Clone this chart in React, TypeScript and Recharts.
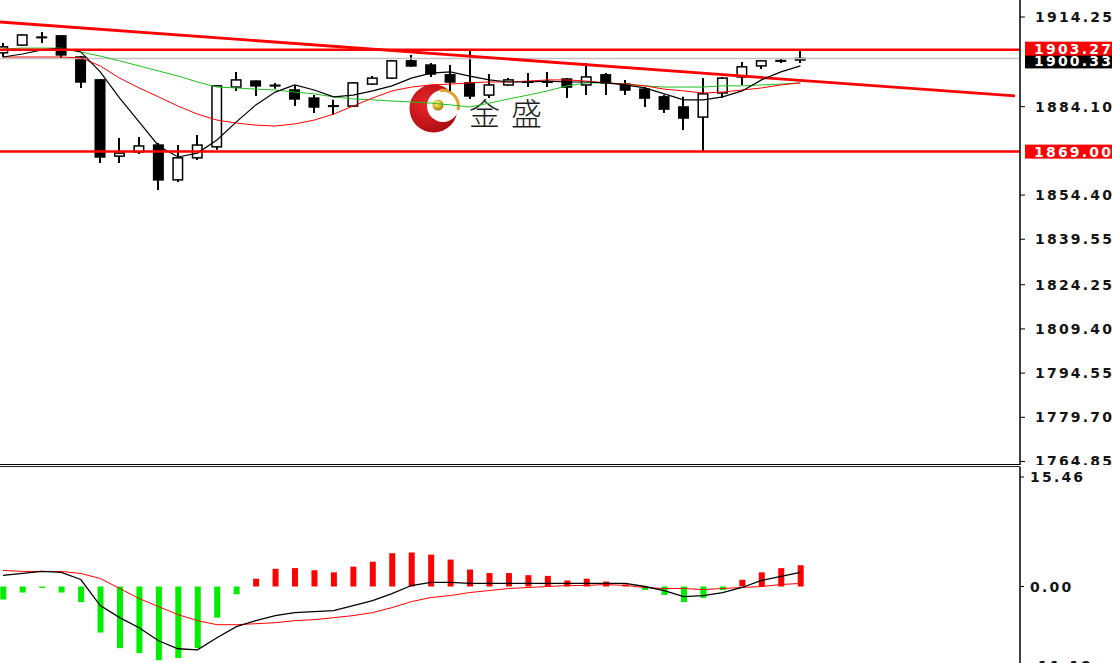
import React from 'react';
import { ComposedChart, Bar, Line, XAxis, YAxis, ReferenceLine, Cell } from 'recharts';

// candles, oldest first
const opens = [1902.2, 1904.8, 1907.3, 1907.9, 1900.8, 1893.1, 1867.5, 1868.9, 1871.2, 1859.5, 1866.9, 1870.6, 1890.7, 1892.7, 1891.3, 1889.7, 1887.0, 1884.2, 1884.3, 1891.7, 1893.7, 1899.5, 1898.1, 1894.8, 1892.1, 1888.0, 1891.4, 1892.3, 1892.5, 1893.4, 1891.4, 1894.8, 1891.7, 1890.0, 1887.4, 1884.0, 1880.6, 1888.7, 1894.1, 1897.8, 1899.4, 1899.8];
const highs = [1905.5, 1908.5, 1909.2, 1908.2, 1901.1, 1893.4, 1873.6, 1873.9, 1871.9, 1871.2, 1874.6, 1891.4, 1895.8, 1892.9, 1892.1, 1891.4, 1888.0, 1886.4, 1892.4, 1894.4, 1899.8, 1901.5, 1898.8, 1898.1, 1902.8, 1895.1, 1893.7, 1895.4, 1895.8, 1893.7, 1898.8, 1895.4, 1893.1, 1890.7, 1888.0, 1887.4, 1893.7, 1894.1, 1899.1, 1899.6, 1900.5, 1902.8];
const lows = [1900.8, 1904.5, 1905.5, 1900.5, 1890.4, 1865.2, 1865.2, 1868.2, 1856.1, 1858.8, 1866.2, 1869.6, 1889.4, 1887.7, 1890.1, 1884.3, 1882.0, 1881.3, 1884.0, 1891.4, 1893.4, 1897.5, 1894.1, 1889.4, 1886.7, 1887.0, 1891.1, 1890.7, 1890.7, 1887.0, 1888.0, 1888.0, 1888.0, 1884.0, 1882.0, 1876.3, 1869.2, 1887.0, 1891.4, 1896.8, 1898.8, 1898.8];
const closes = [1904.2, 1908.2, 1907.5, 1901.5, 1892.4, 1867.2, 1868.5, 1870.9, 1859.5, 1866.9, 1871.2, 1891.1, 1893.1, 1891.1, 1891.1, 1886.7, 1884.0, 1884.4, 1892.1, 1893.7, 1899.5, 1897.8, 1895.1, 1892.4, 1887.7, 1891.4, 1893.1, 1892.5, 1892.3, 1890.7, 1894.1, 1892.1, 1889.7, 1887.0, 1883.3, 1880.3, 1888.4, 1893.7, 1897.5, 1899.5, 1899.6, 1900.33];

// moving averages
const maFast = [1900.8, 1901.8, 1903.2, 1903.8, 1902.5, 1895.8, 1887.0, 1879.0, 1870.9, 1867.2, 1868.5, 1872.9, 1879.0, 1884.7, 1889.0, 1891.4, 1889.7, 1887.4, 1888.0, 1889.4, 1891.1, 1893.7, 1895.4, 1895.8, 1894.4, 1893.1, 1892.4, 1892.4, 1892.7, 1892.4, 1892.4, 1892.1, 1891.4, 1890.4, 1888.4, 1886.4, 1886.4, 1887.4, 1889.4, 1893.1, 1895.8, 1897.8];
const maMid = [1900.8, 1900.8, 1900.8, 1900.8, 1900.5, 1897.8, 1893.7, 1890.4, 1887.4, 1884.3, 1881.6, 1879.6, 1878.6, 1877.9, 1877.6, 1878.3, 1879.6, 1881.6, 1884.3, 1887.0, 1889.4, 1890.7, 1891.4, 1891.7, 1892.1, 1892.4, 1892.4, 1892.7, 1893.1, 1893.1, 1892.7, 1892.1, 1891.7, 1891.1, 1890.0, 1889.4, 1888.7, 1889.0, 1889.7, 1890.4, 1891.4, 1892.1];
const maSlow = [1903.5, 1903.8, 1903.8, 1903.8, 1902.5, 1901.1, 1899.5, 1897.8, 1896.1, 1894.4, 1892.4, 1890.7, 1890.4, 1890.0, 1889.7, 1889.0, 1888.4, 1887.4, 1886.7, 1886.4, 1886.0, 1885.7, 1885.3, 1884.7, 1884.0, 1885.3, 1886.7, 1888.0, 1889.4, 1891.1, 1892.1, 1892.1, 1891.7, 1891.1, 1890.7, 1890.7, 1890.7, 1891.1, 1891.1, 1891.4, 1891.7, 1892.1];

// MACD panel
const macdHist = [-1.84, -0.85, -0.2, -0.85, -2.2, -6.5, -8.7, -9.4, -10.4, -10.1, -8.7, -4.4, -1.1, 1.1, 2.5, 2.6, 2.3, 2.0, 2.8, 3.5, 4.7, 4.8, 4.5, 3.8, 2.4, 1.9, 1.9, 1.6, 1.5, 0.85, 1.1, 0.7, 0.3, -0.5, -1.2, -2.2, -1.6, -0.5, 0.95, 2.0, 2.6, 3.0];
const macdMain = [1.56, 1.84, 2.13, 1.99, 0.99, -2.7, -4.4, -5.82, -7.66, -8.79, -8.94, -7.23, -5.67, -4.82, -4.11, -3.69, -3.55, -3.4, -2.7, -1.99, -0.99, 0.14, 0.57, 0.57, 0.43, 0.43, 0.43, 0.43, 0.43, 0.43, 0.43, 0.43, 0.43, 0.0, -0.57, -1.42, -1.28, -0.85, -0.14, 0.85, 1.42, 1.99];
const macdSignal = [2.27, 2.13, 2.13, 2.13, 1.84, 1.13, -0.28, -1.7, -2.84, -3.97, -4.82, -5.39, -5.39, -5.25, -5.11, -4.82, -4.68, -4.4, -4.11, -3.69, -2.98, -2.13, -1.56, -1.28, -0.85, -0.57, -0.28, -0.14, 0.0, 0.14, 0.14, 0.28, 0.14, -0.14, -0.28, -0.28, -0.43, -0.28, -0.14, 0.0, 0.28, 0.43];

const priceTicks = [1914.25, 1884.1, 1854.4, 1839.55, 1824.25, 1809.4, 1794.55, 1779.7, 1764.85];
const macdTicks = [15.46, 0, -11.19];

const resistance = 1903.27;
const support = 1869.0;
const lastPrice = 1900.33;
const trendStart = { x: -0.154, y: 1912.57 };
const trendEnd = { x: 52.03, y: 1887.7 };

const xDomain = [-0.154, 52.29];
const priceDomain = [1763.66, 1919.96];
const macdDomain = [-12.21, 16.87];

const candles = opens.map((open, i) => ({
  i,
  open,
  high: highs[i],
  low: lows[i],
  close: closes[i],
  maFast: maFast[i],
  maMid: maMid[i],
  maSlow: maSlow[i],
}));

const macdRows = macdHist.map((hist, i) => ({
  i,
  hist,
  main: macdMain[i],
  signal: macdSignal[i],
}));

const FONT = 'DejaVu Sans, Verdana, sans-serif';

const Candle = (props: any) => {
  const { x, y, width, height, payload } = props;
  const { open, close, high, low } = payload;
  const top = Math.min(y, y + height);
  const h = Math.abs(height);
  const k = h / (high - low);
  const cx = Math.round(x + width / 2);
  const bodyTop = top + (high - Math.max(open, close)) * k;
  const bodyBot = top + (high - Math.min(open, close)) * k;
  const bull = close >= open;
  return (
    <g>
      <line x1={cx} x2={cx} y1={top} y2={top + h} stroke="#000" strokeWidth={2} />
      <rect
        x={x + 0.75}
        y={bodyTop}
        width={width - 1.5}
        height={Math.max(bodyBot - bodyTop, 0.6)}
        fill={bull ? '#fff' : '#000'}
        stroke="#000"
        strokeWidth={1.5}
      />
    </g>
  );
};

const AxisTick = (props: any) => {
  const { x, y, payload } = props;
  return (
    <text x={x} y={y} dy="0.36em" fill="#141414" fontSize={14} fontFamily={FONT} fontWeight="bold" letterSpacing={2.2}>
      {Number(payload.value).toFixed(2)}
    </text>
  );
};

const PriceTag = (props: any) => {
  const { viewBox, text, bg, shift = 0 } = props;
  if (!viewBox) return null;
  const x0 = viewBox.x + viewBox.width + 5;
  const yc = viewBox.y + shift;
  return (
    <g>
      <rect x={x0} y={yc - 7} width={95} height={14} fill={bg} />
      <text x={x0 + 9} y={yc} dy="0.36em" fill="#fff" fontSize={14} fontFamily={FONT} fontWeight="bold" letterSpacing={2.2}>
        {text}
      </text>
    </g>
  );
};

const Logo = () => (
  <svg width={160} height={60} style={{ position: 'absolute', left: 400, top: 80 }}>
    <defs>
      <radialGradient id="ring" cx="35%" cy="40%" r="70%">
        <stop offset="0%" stopColor="#e8262a" />
        <stop offset="100%" stopColor="#a80c10" />
      </radialGradient>
      <radialGradient id="ball" cx="40%" cy="35%" r="65%">
        <stop offset="0%" stopColor="#fff3a0" />
        <stop offset="60%" stopColor="#d8b020" />
        <stop offset="100%" stopColor="#a07a10" />
      </radialGradient>
    </defs>
    <circle cx={33.5} cy={28.5} r={24} fill="url(#ring)" />
    <circle cx={43} cy={26} r={16} fill="#fff" />
    <path d="M 40 10.5 A 16 16 0 0 1 58 30" fill="none" stroke="#e0a030" strokeWidth={3} />
    <circle cx={38} cy={25} r={5.5} fill="url(#ball)" />
    <text x={69} y={45} fontSize={31} fontFamily="Noto Sans CJK SC, sans-serif" fontWeight={300} fill="#1c1c1c" letterSpacing={11}>
      金盛
    </text>
  </svg>
);

const App = () => {
  return (
    <div style={{ position: 'fixed', left: 0, top: 0, width: 1112, height: 663, overflow: 'hidden', background: '#fff' }}>
      <Logo />
      <div style={{ position: 'absolute', left: 0, top: 0 }}>
        <ComposedChart width={1112} height={465} data={candles} margin={{ top: 0, right: 0, bottom: 0, left: 0 }}>
          <XAxis type="number" dataKey="i" domain={xDomain} allowDataOverflow hide />
          <YAxis
            orientation="right"
            width={92}
            domain={priceDomain}
            allowDataOverflow
            ticks={priceTicks}
            interval={0}
            tickSize={5}
            tickMargin={10}
            tick={<AxisTick />}
            axisLine={{ stroke: '#000', strokeWidth: 1.5 }}
            tickLine={{ stroke: '#000' }}
          />
          <ReferenceLine
            y={lastPrice}
            stroke="#c4c4c4"
            strokeWidth={1.5}
            label={<PriceTag text={lastPrice.toFixed(2)} bg="#000" shift={3} />}
          />
          <ReferenceLine segment={[trendStart, trendEnd]} stroke="#ff0000" strokeWidth={2.8} ifOverflow="visible" />
          <Line dataKey="maSlow" type="linear" stroke="#20c020" strokeWidth={1} dot={false} activeDot={false} isAnimationActive={false} />
          <Line dataKey="maMid" type="linear" stroke="#ff0000" strokeWidth={1} dot={false} activeDot={false} isAnimationActive={false} />
          <Line dataKey="maFast" type="linear" stroke="#000" strokeWidth={1.2} dot={false} activeDot={false} isAnimationActive={false} />
          <Bar dataKey={(d: any) => [d.low, d.high]} barSize={11} shape={<Candle />} isAnimationActive={false} />
          <ReferenceLine
            y={resistance}
            stroke="#ff0000"
            strokeWidth={2.5}
            label={<PriceTag text={resistance.toFixed(2)} bg="#ff0000" shift={-1} />}
          />
          <ReferenceLine
            y={support}
            stroke="#ff0000"
            strokeWidth={2.5}
            label={<PriceTag text={support.toFixed(2)} bg="#ff0000" />}
          />
        </ComposedChart>
      </div>
      <div style={{ position: 'absolute', left: 0, top: 464, width: 1020, height: 1, background: '#000' }} />
      <div style={{ position: 'absolute', left: 0, top: 466, width: 1020, height: 1, background: '#222' }} />
      <div style={{ position: 'absolute', left: 0, top: 467 }}>
        <ComposedChart width={1112} height={206} data={macdRows} margin={{ top: 0, right: 0, bottom: 0, left: 0 }}>
          <XAxis type="number" dataKey="i" domain={xDomain} allowDataOverflow hide />
          <YAxis
            orientation="right"
            width={92}
            domain={macdDomain}
            allowDataOverflow
            ticks={macdTicks}
            interval={0}
            tickSize={4}
            tickMargin={6}
            tick={<AxisTick />}
            axisLine={{ stroke: '#000', strokeWidth: 1.5 }}
            tickLine={{ stroke: '#000' }}
          />
          <Bar dataKey="hist" barSize={6} isAnimationActive={false}>
            {macdRows.map((r) => (
              <Cell key={r.i} fill={r.hist >= 0 ? '#ff0000' : '#00ee00'} />
            ))}
          </Bar>
          <Line dataKey="signal" type="linear" stroke="#ff0000" strokeWidth={1} dot={false} activeDot={false} isAnimationActive={false} />
          <Line dataKey="main" type="linear" stroke="#000" strokeWidth={1.3} dot={false} activeDot={false} isAnimationActive={false} />
        </ComposedChart>
      </div>
    </div>
  );
};

export default App;
